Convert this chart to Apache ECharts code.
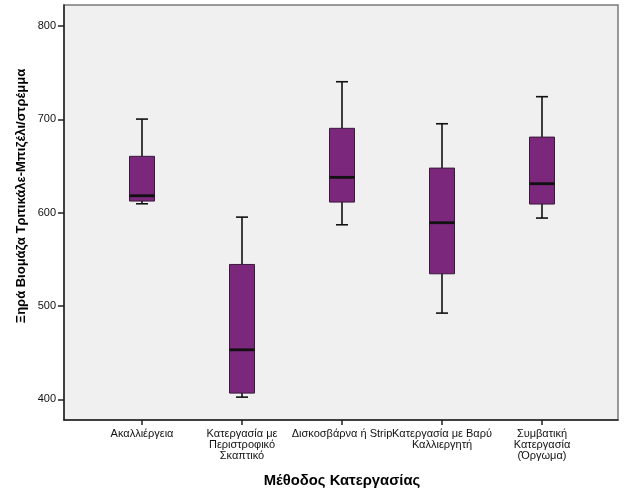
<!DOCTYPE html>
<html>
<head>
<meta charset="utf-8">
<script src="https://cdn.jsdelivr.net/npm/echarts@6/dist/echarts.min.js"></script>
<style>html,body{margin:0;padding:0;background:#fff;}#c{width:626px;height:501px;}</style>
</head>
<body>
<div id="c"></div>
<script>
const categories = [
  'Ακαλλιέργεια',
  'Κατεργασία με\nΠεριστροφικό\nΣκαπτικό',
  'Δισκοσβάρνα ή Strip',
  'Κατεργασία με Βαρύ\nΚαλλιεργητή',
  'Συμβατική\nΚατεργασία\n(Όργωμα)'
];
// [min whisker, Q1, median, Q3, max whisker]
const lowWhisker = [609.6, 402.5, 587.1, 492.5, 594.3];
const q1 = [612.5, 406.8, 611.4, 534.6, 609.3];
const median = [618.2, 453.2, 637.9, 589.3, 631.1];
const q3 = [660.4, 544.6, 690.4, 647.8, 681.0];
const highWhisker = [700.3, 595.3, 740.3, 695.3, 724.3];
const yTicks = [400, 500, 600, 700, 800];
const yMin = 378, yMax = 822.5;
const xTitle = 'Μέθοδος Κατεργασίας';
const yTitle = 'Ξηρά Βιομάζα Τριτικάλε-Μπιζέλι/στρέμμα';

const data = categories.map((c, i) => [i, lowWhisker[i], q1[i], median[i], q3[i], highWhisker[i]]);

const chart = echarts.init(document.getElementById('c'), null, {renderer: 'canvas'});
const fill = '#7b277b';
const dark = '#111';

function renderItem(params, api) {
  const x = api.value(0);
  const pLow = api.coord([x, api.value(1)]);
  const pQ1 = api.coord([x, api.value(2)]);
  const pMed = api.coord([x, api.value(3)]);
  const pQ3 = api.coord([x, api.value(4)]);
  const pHigh = api.coord([x, api.value(5)]);
  const cx = Math.round(pMed[0]);
  const bw = 25, cw = 12;
  return {
    type: 'group',
    children: [
      {type: 'line', shape: {x1: cx, y1: pHigh[1], x2: cx, y2: pLow[1]}, style: {stroke: dark, lineWidth: 1.6}},
      {type: 'line', shape: {x1: cx - cw / 2, y1: pHigh[1], x2: cx + cw / 2, y2: pHigh[1]}, style: {stroke: dark, lineWidth: 1.6}},
      {type: 'line', shape: {x1: cx - cw / 2, y1: pLow[1], x2: cx + cw / 2, y2: pLow[1]}, style: {stroke: dark, lineWidth: 1.6}},
      {type: 'rect', shape: {x: cx - bw / 2, y: pQ3[1], width: bw, height: pQ1[1] - pQ3[1]}, style: {fill: fill, stroke: '#3a1a3a', lineWidth: 1}},
      {type: 'line', shape: {x1: cx - bw / 2, y1: pMed[1], x2: cx + bw / 2, y2: pMed[1]}, style: {stroke: dark, lineWidth: 2.8}}
    ]
  };
}

chart.setOption({
  backgroundColor: '#ffffff',
  animation: false,
  grid: [
    {left: 64, top: 5, width: 554, height: 415, show: true, backgroundColor: '#f0f0f0', borderColor: '#7a7a7a', borderWidth: 1.5},
    {left: 92, top: 5, width: 500, height: 415}
  ],
  graphic: [{
    type: 'text', x: 21, y: 196, rotation: Math.PI / 2,
    style: {text: yTitle, fill: '#000', font: 'bold 13px "Liberation Sans"', align: 'center', verticalAlign: 'middle'}
  }],
  xAxis: [
    {gridIndex: 0, type: 'value', min: 0, max: 1, axisLine: {show: true, onZero: false, lineStyle: {color: '#222', width: 1.5}},
     axisTick: {show: false}, axisLabel: {show: false}, splitLine: {show: false}},
    {gridIndex: 1, type: 'category', data: categories, boundaryGap: true,
     axisLine: {show: false}, axisTick: {show: true, alignWithLabel: true, length: 5, lineStyle: {color: '#222', width: 1.5}},
     axisLabel: {interval: 0, margin: 8, fontSize: 11, lineHeight: 11.2, color: '#111', fontFamily: 'Liberation Sans'},
     name: xTitle, nameLocation: 'middle', nameGap: 53,
     nameTextStyle: {fontSize: 14.8, fontWeight: 'bold', color: '#000', fontFamily: 'Liberation Sans'}}
  ],
  yAxis: [
    {gridIndex: 0, type: 'value', min: yMin, max: yMax,
     axisLine: {show: true, lineStyle: {color: '#222', width: 1.5}},
     axisTick: {show: true, length: 6, customValues: yTicks, lineStyle: {color: '#222', width: 1.5}},
     axisLabel: {customValues: yTicks, fontSize: 11, color: '#111', margin: 8, fontFamily: 'Liberation Sans'},
     splitLine: {show: false}},
    {gridIndex: 1, type: 'value', min: yMin, max: yMax, show: false}
  ],
  series: [{
    type: 'custom',
    xAxisIndex: 1,
    yAxisIndex: 1,
    renderItem: renderItem,
    encode: {x: 0, y: [1, 2, 3, 4, 5]},
    data: data
  }]
});
</script>
</body>
</html>
